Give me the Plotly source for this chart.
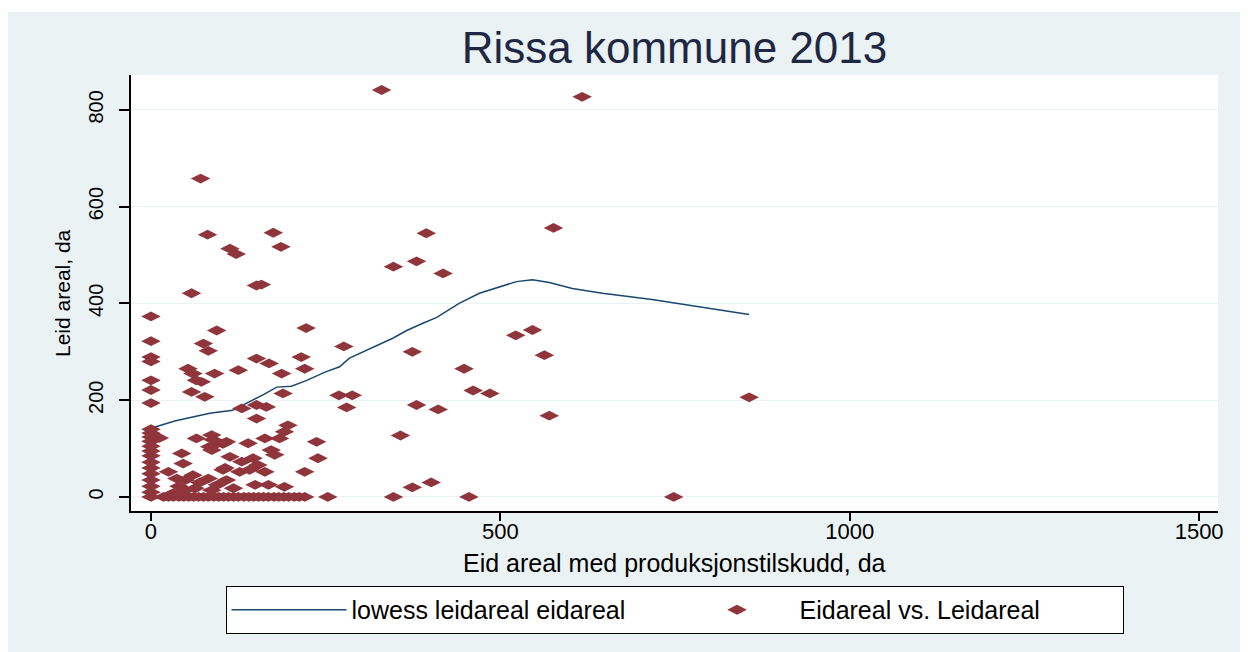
import plotly.graph_objects as go

# scatter: owned area (x) vs leased area (y), daa
eid_x = [0, 0, 0, 0, 0, 0, 0, 0, 0, 0, 0, 0, 0, 0, 0, 0, 0, 0, 0, 0, 0, 12,
         58, 71, 81, 113, 122, 175, 186, 151, 158, 94, 222, 75, 82, 151, 169, 215,
         220, 53, 60, 91, 125, 187, 65, 72, 58, 77, 189,
         330, 617, 394, 576, 347, 380, 418, 276, 374, 448, 522, 546, 563, 269, 288,
         280, 380, 411, 461, 485, 570, 856, 357, 237, 239, 374, 401, 253, 347, 455, 748,
         65, 87, 94, 44, 46, 87, 103, 25, 37, 49, 82, 103, 108, 63, 87, 32, 49,
         130, 151, 165, 151, 196, 191, 184, 163, 108, 139, 172, 177, 113, 130, 146,
         153, 127, 141, 163, 106, 220, 149, 168, 191, 118, 89, 84, 70, 95, 60, 40,
         18, 25, 32, 40, 47, 54, 61, 68, 75, 82, 90, 97, 104, 111, 118, 125, 133,
         140, 147, 154, 161, 168, 176, 183, 190, 197, 205, 212, 220]
leid_y = [373, 322, 289, 280, 241, 221, 194, 140, 132, 124, 115, 105, 95, 85, 72, 60, 48, 35, 22, 10, 0, 122,
          421, 658, 542, 513, 502, 546, 517, 437, 439, 344, 349, 317, 302, 286, 276, 289,
          265, 265, 255, 255, 262, 255, 241, 238, 217, 207, 214,
          841, 827, 545, 556, 476, 487, 462, 311, 300, 265, 334, 345, 293, 210, 210,
          185, 190, 181, 220, 214, 168, 206, 127, 114, 80, 20, 30, 0, 0, 0, 0,
          121, 128, 110, 90, 69, 97, 110, 52, 38, 35, 38, 56, 35, 18, 14, 8, 14,
          183, 190, 186, 162, 148, 135, 121, 121, 114, 111, 97, 87, 83, 73, 80,
          66, 52, 56, 52, 60, 52, 25, 25, 21, 18, 118, 104, 30, 25, 45, 22,
          0, 0, 0, 0, 0, 0, 0, 0, 0, 0, 0, 0, 0, 0, 0, 0, 0,
          0, 0, 0, 0, 0, 0, 0, 0, 0, 0, 0, 0, 0]

# lowess smoother
lowess_x = [0, 34, 84, 117, 137, 159, 180, 201, 223, 249, 270, 284, 346, 366, 389, 409,
            441, 470, 523, 546, 570, 603, 646, 717, 856]
lowess_y = [142, 157, 173, 179, 194, 210, 227, 229, 241, 258, 269, 287, 328, 344, 359, 371,
            400, 421, 445, 449, 443, 431, 421, 408, 377]

FONT = "Liberation Sans, Arial, sans-serif"

fig = go.Figure()
fig.add_trace(go.Scatter(
    x=lowess_x, y=lowess_y, mode="lines", name="lowess leidareal eidareal",
    line=dict(color="#1a476f", width=1.5),
))
fig.add_trace(go.Scatter(
    x=eid_x, y=leid_y, mode="markers", name="Eidareal vs. Leidareal",
    marker=dict(symbol="diamond-wide", size=14, color="#90353b", line=dict(width=0)),
))

fig.update_layout(
    width=1248, height=652,
    margin=dict(l=123, r=38, t=67, b=149),
    paper_bgcolor="#eaf2f3",
    plot_bgcolor="white",
    font=dict(family=FONT, color="black"),
    title=dict(text="Rissa kommune 2013", x=0.5, xref="paper", y=0.9387, yanchor="middle",
               font=dict(size=44, color="#1e2845")),
    showlegend=True,
    legend=dict(
        orientation="h", x=0.5, xanchor="center", y=-0.172, yanchor="top",
        bgcolor="white", bordercolor="black", borderwidth=1,
        font=dict(size=25), entrywidth=318, itemwidth=115,
    ),
    shapes=[dict(type="rect", xref="paper", yref="paper", x0=-0.2, x1=1.1,
                 y0=1 + 63 / 436, y1=1 + 70 / 436, fillcolor="white", line=dict(width=0),
                 layer="below")],
    annotations=[
        dict(text="Eid areal med produksjonstilskudd, da", xref="paper", yref="paper",
             x=0.5, y=-52 / 436, xanchor="center", yanchor="middle", showarrow=False,
             font=dict(size=25)),
        dict(text="Leid areal, da", xref="paper", yref="paper", textangle=-90,
             x=-69 / 1087, y=0.5, xanchor="center", yanchor="middle", showarrow=False,
             font=dict(size=21)),
    ],
)

fig.update_xaxes(
    range=[-28.6, 1527], tickvals=[0, 500, 1000, 1500],
    showgrid=False, zeroline=False,
    showline=True, linecolor="black", linewidth=1.5,
    ticks="outside", ticklen=8, tickcolor="black", tickwidth=1.5,
    tickfont=dict(size=22), ticklabelstandoff=-8,
)
fig.update_yaxes(
    range=[-29, 872], tickvals=[0, 200, 400, 600, 800],
    showgrid=True, gridcolor="#eaf2f3", gridwidth=1, zeroline=False,
    showline=True, linecolor="black", linewidth=1.5,
    ticks="outside", ticklen=10, tickcolor="black", tickwidth=1.5,
    tickangle=-90, tickfont=dict(size=20), ticklabelstandoff=8,
)

fig.write_html("out.html")
